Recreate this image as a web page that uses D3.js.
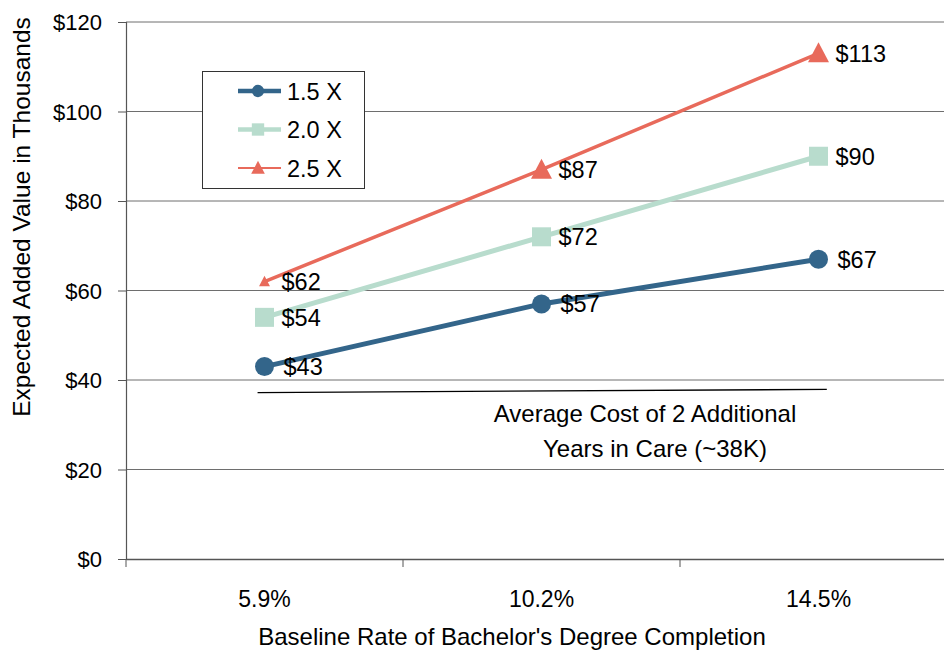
<!DOCTYPE html>
<html><head><meta charset="utf-8">
<script src="https://cdn.jsdelivr.net/npm/d3@7"></script>
<style>
html,body{margin:0;padding:0;background:#fff;}
svg{display:block;font-family:"Liberation Sans",Arial,sans-serif;}
</style></head>
<body>
<svg id="chart" width="944" height="652"></svg>
<script>
const categories = ["5.9%", "10.2%", "14.5%"];
const seriesNames = ["1.5 X", "2.0 X", "2.5 X"];
const values15 = [43, 57, 67];
const values20 = [54, 72, 90];
const values25 = [62, 87, 113];
const yTicks = [0, 20, 40, 60, 80, 100, 120];
const costLineIdx = [-0.025, 2.03];
const costLineVal = [37.2, 37.9];
const costLabel = ["Average Cost of 2 Additional", "Years in Care (~38K)"];
const xTitle = "Baseline Rate of Bachelor's Degree Completion";
const yTitle = "Expected Added Value in Thousands";

const FONT = "Liberation Sans, Arial, sans-serif";
const colors = ["#33658a", "#b8dccd", "#e86a5b"];
const widths = [5, 5, 3.5];
const shapes = ["circle", "square", "triangle"];
const series = [values15, values20, values25].map((v, i) => ({
  name: seriesNames[i], values: v, color: colors[i], width: widths[i], shape: shapes[i]
}));

const svg = d3.select("#chart");
const m = {left: 126, top: 22, right: 957, bottom: 559};

const x = d3.scaleBand().domain(categories).range([m.left, m.right]).padding(0);
const xc = d => x(d) + x.bandwidth() / 2;
const xi = d3.scaleLinear().domain([0, 2]).range([xc(categories[0]), xc(categories[2])]);
const y = d3.scaleLinear().domain([0, 120]).range([m.bottom, m.top]);

// gridlines
svg.append("g").selectAll("line").data(yTicks.filter(t => t > 0)).join("line")
  .attr("x1", m.left).attr("x2", m.right)
  .attr("y1", d => y(d)).attr("y2", d => y(d))
  .attr("stroke", "#6e6e6e").attr("stroke-width", 1);

// y axis
const yAxis = svg.append("g").attr("transform", `translate(${m.left},0)`)
  .call(d3.axisLeft(y).tickValues(yTicks).tickSize(8).tickPadding(16).tickFormat(d => "$" + d));
yAxis.select(".domain").attr("stroke", "#555").attr("stroke-width", 1.2);
yAxis.selectAll(".tick line").attr("stroke", "#555");
yAxis.selectAll("text").attr("font-size", 22).attr("fill", "#000").attr("font-family", FONT).attr("dy", "0.36em");

// x axis
const xAxis = svg.append("g").attr("transform", `translate(0,${m.bottom})`)
  .call(d3.axisBottom(x).tickSize(0).tickPadding(0));
xAxis.select(".domain").attr("stroke", "#555").attr("stroke-width", 1.5);
xAxis.selectAll("text").attr("font-size", 23).attr("fill", "#000").attr("font-family", FONT)
  .attr("dy", null).attr("y", 48);
// x boundary ticks
const bounds = categories.map(c => x(c));
svg.append("g").selectAll("line").data(bounds).join("line")
  .attr("x1", d => d).attr("x2", d => d).attr("y1", m.bottom).attr("y2", m.bottom + 8)
  .attr("stroke", "#555").attr("stroke-width", 1);

// axis titles
svg.append("text").attr("x", 512).attr("y", 645).attr("text-anchor", "middle")
  .attr("font-size", 24).text(xTitle);
svg.append("text").attr("transform", "translate(30,217) rotate(-90)").attr("text-anchor", "middle")
  .attr("font-size", 24.5).text(yTitle);

// cost line
svg.append("line")
  .attr("x1", xi(costLineIdx[0])).attr("x2", xi(costLineIdx[1]))
  .attr("y1", y(costLineVal[0])).attr("y2", y(costLineVal[1]))
  .attr("stroke", "#000").attr("stroke-width", 1.3);
const costX = [645, 655];
svg.append("g").selectAll("text").data(costLabel).join("text")
  .attr("x", (d, i) => costX[i]).attr("y", (d, i) => 422 + i * 35).attr("text-anchor", "middle")
  .attr("font-size", 24).text(d => d);

// series lines
const line = d3.line().x((d, i) => xc(categories[i])).y(d => y(d));
svg.append("g").selectAll("path").data(series).join("path")
  .attr("d", s => line(s.values)).attr("fill", "none")
  .attr("stroke", s => s.color).attr("stroke-width", s => s.width);

function drawMarker(g, shape, cx, cy, color, scale) {
  if (shape === "circle") {
    g.append("circle").attr("cx", cx).attr("cy", cy).attr("r", 9.5 * scale).attr("fill", color);
  } else if (shape === "square") {
    const s = 19 * scale;
    g.append("rect").attr("x", cx - s / 2).attr("y", cy - s / 2).attr("width", s).attr("height", s).attr("fill", color);
  } else {
    const s = 21 * scale, h = s * 0.95;
    g.append("path").attr("d", `M${cx},${cy - h * 0.55}L${cx + s / 2},${cy + h * 0.45}L${cx - s / 2},${cy + h * 0.45}Z`).attr("fill", color);
  }
}

const mk = svg.append("g");
series.forEach(s => {
  s.values.forEach((v, i) => {
    const small = (s.shape === "triangle" && i === 0) ? 0.52 : 1;
    drawMarker(mk, s.shape, xc(categories[i]), y(v), s.color, small);
    mk.append("text")
      .attr("x", xc(categories[i]) + (s.shape === "circle" ? 19 : 17))
      .attr("y", y(v) + 8.5)
      .attr("font-size", 23.5).text("$" + v);
  });
});

// legend
const lg = svg.append("g");
lg.append("rect").attr("x", 202.5).attr("y", 71.5).attr("width", 162).attr("height", 117)
  .attr("fill", "#fff").attr("stroke", "#333").attr("stroke-width", 1);
series.forEach((s, i) => {
  const ly = 91 + i * 38.5;
  lg.append("line").attr("x1", 238).attr("x2", 281).attr("y1", ly).attr("y2", ly)
    .attr("stroke", s.color).attr("stroke-width", s.shape === "triangle" ? 2 : 4.5);
  drawMarker(lg, s.shape, 258, ly, s.color, 0.65);
  lg.append("text").attr("x", 287).attr("y", ly + 8.5).attr("font-size", 23.5).text(s.name);
});
</script>
</body></html>
